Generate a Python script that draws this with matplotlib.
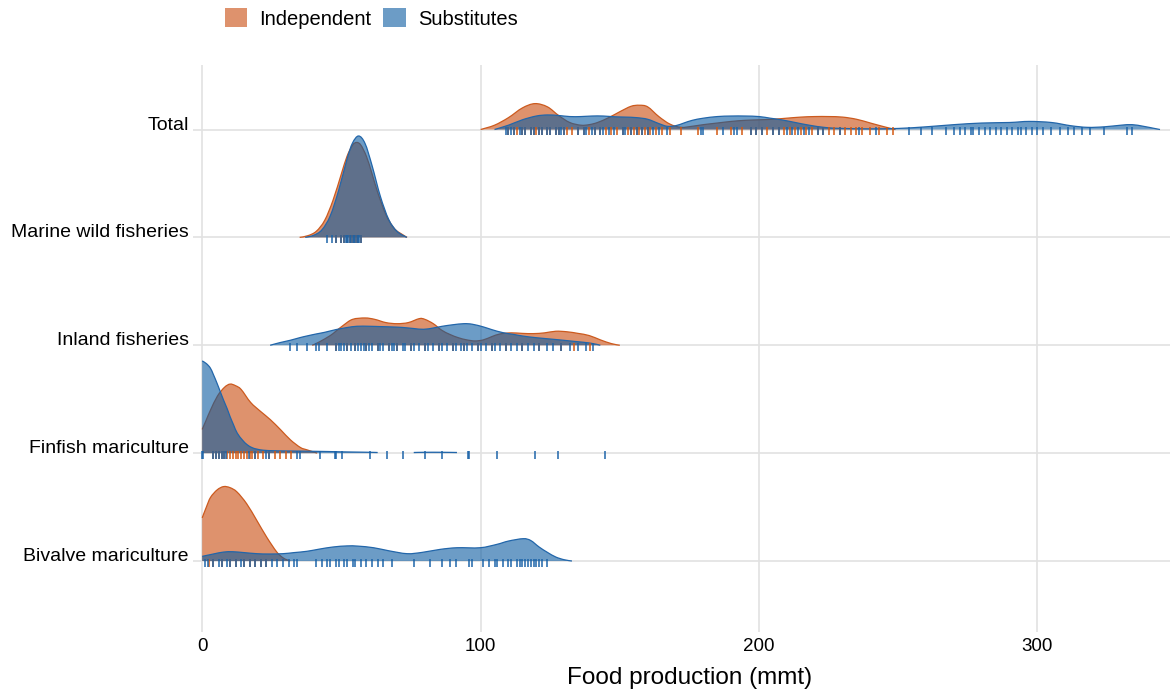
import numpy as np
import matplotlib
matplotlib.use("Agg")
import matplotlib.pyplot as plt
from matplotlib.patches import Patch, PathPatch
from matplotlib.path import Path

plt.rcParams['font.family'] = ['Liberation Sans', 'DejaVu Sans']

# ---------------- data ----------------
categories = ["Bivalve mariculture", "Finfish mariculture", "Inland fisheries",
              "Marine wild fisheries", "Total"]
groups = ["Independent", "Substitutes"]
x_ticks = [0, 100, 200, 300]
x_title = "Food production (mmt)"

# density heights (row-height units)
ind_total_x = [100, 105, 110, 115, 119.5, 124, 128, 132, 136, 139, 142, 146, 150, 154, 157, 160, 164,
               168, 172, 176, 180, 185, 190, 195, 200, 205, 210, 215, 220, 225, 230, 235, 240, 245, 249]
ind_total_h = [0.0, 0.04, 0.11, 0.2, 0.24, 0.21, 0.13, 0.065, 0.04, 0.045, 0.065, 0.11, 0.165, 0.215,
               0.225, 0.21, 0.12, 0.05, 0.02, 0.03, 0.045, 0.06, 0.075, 0.085, 0.09, 0.095, 0.105,
               0.115, 0.12, 0.12, 0.115, 0.095, 0.06, 0.025, 0.0]
sub_total_x = [105, 110, 115, 120, 124, 128, 132, 136, 140, 144, 148, 152, 156, 160, 164, 167, 170,
               173, 176, 180, 185, 190, 195, 200, 204, 208, 213, 218, 224, 230, 240, 250, 260, 270,
               280, 290, 297, 305, 312, 318, 324, 330, 334, 338, 342, 344]
sub_total_h = [0.0, 0.04, 0.09, 0.125, 0.135, 0.13, 0.12, 0.12, 0.125, 0.125, 0.118, 0.115, 0.11,
               0.095, 0.055, 0.03, 0.035, 0.06, 0.085, 0.105, 0.12, 0.125, 0.125, 0.12, 0.105, 0.09,
               0.065, 0.04, 0.018, 0.01, 0.006, 0.01, 0.025, 0.045, 0.06, 0.065, 0.075, 0.065, 0.035,
               0.02, 0.025, 0.04, 0.045, 0.03, 0.01, 0.0]

ind_marine_x = [35, 38, 41, 44, 47, 50, 52, 54, 55.5, 57, 59, 61, 63, 66, 69, 72, 73.6]
ind_marine_h = [0.0, 0.016, 0.057, 0.158, 0.345, 0.59, 0.75, 0.855, 0.88, 0.855, 0.75, 0.59, 0.42,
                0.21, 0.082, 0.025, 0.0]
sub_marine_x = [37, 40, 43, 46, 49, 52, 54, 56.2, 58.5, 61, 64, 67, 70, 73.5]
sub_marine_h = [0.0, 0.019, 0.07, 0.2, 0.435, 0.724, 0.875, 0.94, 0.87, 0.667, 0.38, 0.166, 0.055, 0.0]

ind_inland_x = [39.5, 42, 46, 48, 50.7, 54, 58.5, 62, 66, 70, 74, 78, 80, 83, 86, 89, 92, 95, 98,
                101, 104, 107, 111, 115, 119, 123, 127, 131, 135, 139, 143, 147, 150]
ind_inland_h = [0.0, 0.03, 0.09, 0.13, 0.185, 0.24, 0.253, 0.24, 0.21, 0.2, 0.21, 0.247, 0.24, 0.2,
                0.14, 0.1, 0.07, 0.05, 0.04, 0.05, 0.08, 0.105, 0.115, 0.11, 0.108, 0.115, 0.13,
                0.125, 0.11, 0.09, 0.05, 0.015, 0.0]
sub_inland_x = [24.4, 28, 31.6, 35, 37.6, 41, 44, 48, 52, 55.6, 60, 64, 68, 72, 76, 79.5, 83, 86, 90,
                94, 97, 101, 104, 108, 112, 115, 120, 127.5, 134, 139.4, 143]
sub_inland_h = [0.0, 0.025, 0.046, 0.07, 0.086, 0.105, 0.12, 0.145, 0.164, 0.176, 0.176, 0.173,
                0.17, 0.165, 0.155, 0.148, 0.16, 0.175, 0.19, 0.2, 0.195, 0.17, 0.145, 0.117, 0.1,
                0.086, 0.07, 0.052, 0.035, 0.02, 0.0]

ind_fin_x = [0, 1.5, 3, 5.5, 8, 10, 12, 14, 17.4, 21, 24.5, 28.2, 31.7, 35.3, 37.7, 41.3]
ind_fin_h = [0.22, 0.31, 0.4, 0.53, 0.61, 0.64, 0.625, 0.59, 0.47, 0.386, 0.31, 0.216, 0.123, 0.052,
             0.03, 0.0]
# None = density dropped below the minimum drawn height
sub_fin_x = [0, 1.5, 2.9, 4, 5.3, 6.5, 7.7, 9, 10, 11.3, 12.6, 14.5, 16.2, 18, 19.7, 22, 25.7, 30,
             35, 40, 45, 50, 55, 60, 63, 68, 76, 80, 86, 91.5]
sub_fin_h = [0.855, 0.83, 0.79, 0.73, 0.65, 0.57, 0.49, 0.41, 0.34, 0.26, 0.185, 0.12, 0.077, 0.05,
             0.037, 0.027, 0.022, 0.02, 0.019, 0.017, 0.015, 0.012, 0.01, 0.008, 0.006, None, 0.006,
             0.008, 0.008, 0.006]

ind_biv_x = [0, 1.5, 3, 5.4, 7.7, 10, 12.5, 16, 19.6, 23.2, 26.8, 29, 30.4, 31.6]
ind_biv_h = [0.4, 0.5, 0.59, 0.66, 0.69, 0.68, 0.64, 0.53, 0.377, 0.22, 0.083, 0.03, 0.012, 0.0]
sub_biv_x = [0, 4, 7.7, 11, 15, 19.6, 24, 29, 33, 37.6, 42, 47, 52, 56, 61.6, 67, 73.6, 79, 85.5,
             91.5, 99.8, 105.8, 110, 115.3, 118, 121, 124, 127, 130, 132.8]
sub_biv_h = [0.043, 0.065, 0.083, 0.086, 0.078, 0.068, 0.065, 0.068, 0.078, 0.09, 0.11, 0.13, 0.14,
             0.138, 0.123, 0.095, 0.068, 0.08, 0.108, 0.123, 0.123, 0.154, 0.185, 0.207, 0.19,
             0.13, 0.08, 0.037, 0.012, 0.0]

# rug (individual simulation values)
ind_total_rug = [110, 112, 113, 115, 116, 118, 119, 120, 121, 122, 124, 125, 127, 128, 130, 131, 133,
                 135, 137, 139, 141, 143, 145, 147, 149, 151, 153, 154, 155, 156, 157, 158, 159, 160,
                 161, 163, 165, 168, 172, 178, 185, 190, 194, 197, 199, 201, 203, 205, 207, 209, 211,
                 213, 215, 217, 219, 221, 223, 225, 227, 229, 231, 233, 235, 237, 240, 243, 246, 248]
sub_total_rug = [109, 110, 111, 112, 114, 115, 116, 118, 119, 121, 122, 124, 125, 127, 128, 129, 130,
                 135, 137, 138, 140, 141, 143, 144, 146, 148, 151, 152, 154, 156, 158, 160, 162, 164,
                 167, 179, 180, 187, 191, 192, 197, 199, 201, 205, 207, 210, 212, 214, 216, 218, 221,
                 223, 229, 236, 242, 254, 258, 262, 267, 270, 272, 274, 276, 277, 279, 281, 283, 285,
                 287, 289, 291, 293, 294, 296, 298, 300, 302, 305, 308, 311, 313, 316, 319, 324, 332,
                 334]
ind_marine_rug = [48, 50, 51, 52, 53, 53.5, 54, 55, 55.5, 56, 57]
sub_marine_rug = [45, 46.5, 48, 50, 51, 51.5, 52, 52.5, 53, 53.5, 54, 54.5, 55, 55.5, 56, 56.5, 57]
ind_inland_rug = [48, 52, 55, 59, 63, 67, 70, 75, 80, 85, 90, 94, 99, 104, 109, 115, 121, 129,
                  133.5, 139.4]
sub_inland_rug = [31.6, 34, 37.6, 41, 42, 44.8, 48, 49, 50, 51, 52, 53.5, 55, 56, 57, 58, 59, 60, 61,
                  63, 64, 65, 67, 68, 69, 70, 72, 73, 75, 76, 78, 80, 81, 83, 85, 86, 88, 90, 91, 93,
                  94, 95, 97, 99, 100, 102, 104, 105, 107, 109, 111, 113, 115, 117, 119, 121, 124,
                  126, 129, 132, 135, 138, 140.5]
ind_fin_rug = [4, 5, 6, 7, 8, 9, 10, 11, 12, 13, 14, 15, 16, 17, 18, 19, 20, 22, 24, 26, 28, 30, 32]
sub_fin_rug = [0, 0.3, 4, 5, 6, 7, 8, 8.4, 16.8, 19, 23, 24, 34, 35, 42.4, 47.8, 48.2, 50.3, 60.3,
               66.4, 72.2, 80, 86.2, 95.5, 96, 106, 119.6, 127.8, 144.7]
ind_biv_rug = [2.6, 4, 7, 10, 12, 15, 17, 19, 21, 23]
sub_biv_rug = [1, 2, 4, 6, 7, 9, 10, 12, 14, 15, 17, 19, 21, 23, 25, 27, 29, 31, 33, 34, 41, 43, 45,
               46, 48, 49, 51, 52, 54, 55, 57, 59, 61, 63, 65, 68, 76, 82, 86, 89, 91, 96, 97, 101,
               103, 105, 106, 108, 110, 111, 113, 114, 115, 116, 117, 118, 119, 120, 121, 122, 124]

rows = {
    "Total": ((ind_total_x, ind_total_h, ind_total_rug), (sub_total_x, sub_total_h, sub_total_rug)),
    "Marine wild fisheries": ((ind_marine_x, ind_marine_h, ind_marine_rug),
                              (sub_marine_x, sub_marine_h, sub_marine_rug)),
    "Inland fisheries": ((ind_inland_x, ind_inland_h, ind_inland_rug),
                         (sub_inland_x, sub_inland_h, sub_inland_rug)),
    "Finfish mariculture": ((ind_fin_x, ind_fin_h, ind_fin_rug), (sub_fin_x, sub_fin_h, sub_fin_rug)),
    "Bivalve mariculture": ((ind_biv_x, ind_biv_h, ind_biv_rug), (sub_biv_x, sub_biv_h, sub_biv_rug)),
}

# ---------------- style ----------------
fill_colors = {"Independent": "#C94A0C", "Substitutes": "#0A5AA0"}
line_colors = {"Independent": "#CC5A1E", "Substitutes": "#2266AA"}
rug_colors = {"Independent": "#D2570F", "Substitutes": "#1B63A8"}
fill_alpha = 0.6
grid_color = "#E2E2E2"


def smooth_segments(xs, hs):
    """Split at gaps and return lists of (verts, codes) smooth curves through the read points."""
    segs, cur = [], []
    for x, h in zip(xs, hs):
        if h is None:
            if cur:
                segs.append(cur)
            cur = []
        else:
            cur.append((float(x), float(h)))
    if cur:
        segs.append(cur)
    out = []
    for s in segs:
        p = np.array(s)
        n = len(p)
        verts = [tuple(p[0])]
        codes = [Path.MOVETO]
        for i in range(n - 1):
            p0 = p[i - 1] if i > 0 else p[i]
            p1, p2 = p[i], p[i + 1]
            p3 = p[i + 2] if i + 2 < n else p[i + 1]
            c1 = p1 + (p2 - p0) / 6.0
            c2 = p2 - (p3 - p1) / 6.0
            c1[1] = max(c1[1], 0.0)
            c2[1] = max(c2[1], 0.0)
            verts += [tuple(c1), tuple(c2), tuple(p2)]
            codes += [Path.CURVE4] * 3
        out.append((np.array(verts), codes))
    return out


W, H = 1172, 692
fig = plt.figure(figsize=(W / 100, H / 100), dpi=100)
ax = fig.add_axes([193 / W, 60 / H, 977 / W, 567 / H])
ax.set_xlim(-3.3, 347.6)
ax.set_ylim(0.342, 5.598)

ypos = {c: i + 1 for i, c in enumerate(categories)}

z = 2
for cat in ["Total", "Marine wild fisheries", "Inland fisheries", "Finfish mariculture",
            "Bivalve mariculture"]:
    y0 = ypos[cat]
    for g, (xs, hs, rug) in zip(groups, rows[cat]):
        for verts, codes in smooth_segments(xs, hs):
            top = verts.copy()
            top[:, 1] += y0
            fverts = np.vstack([[top[0, 0], y0], top, [top[-1, 0], y0], [top[0, 0], y0]])
            fcodes = [Path.MOVETO, Path.LINETO] + codes[1:] + [Path.LINETO, Path.CLOSEPOLY]
            ax.add_patch(PathPatch(Path(fverts, fcodes), facecolor=fill_colors[g],
                                   alpha=fill_alpha, lw=0, zorder=z))
            ax.add_patch(PathPatch(Path(top, codes), fill=False, edgecolor=line_colors[g],
                                   lw=0.9, zorder=z + 0.1))
        z += 0.2
    for g, (xs, hs, rug) in zip(groups, rows[cat]):
        ax.plot(rug, np.full(len(rug), y0 - 0.018), ls="none", marker="|", ms=6.2, mew=1.2,
                color=rug_colors[g], alpha=0.9, zorder=z)
        z += 0.2

ax.set_xticks(x_ticks)
ax.set_xticklabels([str(t) for t in x_ticks], fontsize=13.5)
ax.set_yticks(list(ypos.values()))
ax.set_yticklabels(categories, fontsize=14, va="baseline")
ax.tick_params(axis="both", length=0, colors="black")
ax.tick_params(axis="x", pad=4)
ax.tick_params(axis="y", pad=3)
ax.grid(True, color=grid_color, lw=1.2)
ax.set_axisbelow(True)
for s in ax.spines.values():
    s.set_visible(False)

ax.set_xlabel(x_title, fontsize=17.5, va="center")
ax.xaxis.set_label_coords((690 - 193) / 977, (632 - 678) / 567)

handles = [Patch(facecolor=fill_colors[g], alpha=fill_alpha, edgecolor="none", label=g) for g in groups]
fig.legend(handles=handles, loc="upper left", bbox_to_anchor=(225 / W, 1 - 8 / H), ncol=2,
           frameon=False, fontsize=14.5, handlelength=1.1, handleheight=1.1, handletextpad=0.6,
           columnspacing=0.6, borderpad=0, borderaxespad=0)

fig.savefig("out.png", dpi=100)
